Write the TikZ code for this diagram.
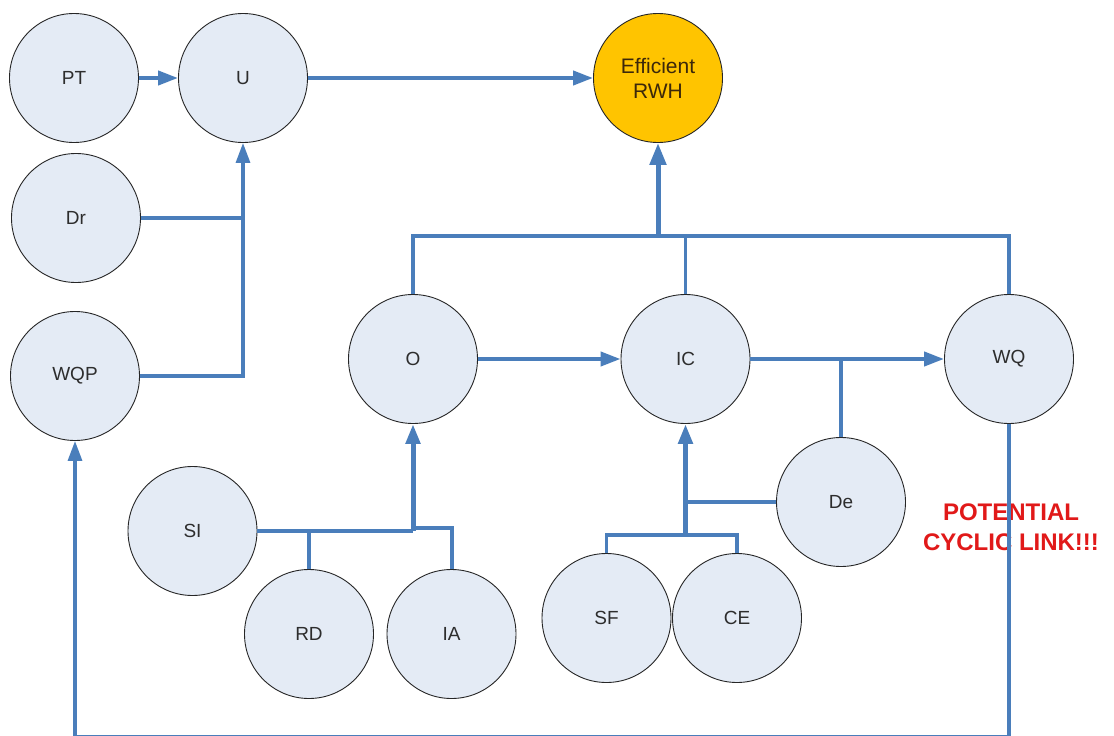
\documentclass[tikz,border=0pt]{standalone}
\usepackage{fontspec}
\setmainfont{Liberation Sans}
\usetikzlibrary{arrows.meta}
\definecolor{linkblue}{RGB}{74,126,187}
\definecolor{nodefill}{RGB}{228,235,245}
\definecolor{goalfill}{RGB}{255,196,0}
\definecolor{textgray}{RGB}{45,45,45}
\definecolor{goaltext}{RGB}{60,40,10}
\definecolor{warnred}{RGB}{225,25,25}
\tikzset{
  factor/.style={circle, draw=black!85, line width=0.9pt, fill=nodefill, minimum size=129pt, inner sep=0pt, text=textgray, font=\fontsize{19}{22}\selectfont, align=center},
  goal/.style={factor, fill=goalfill, text=goaltext, font=\fontsize{21}{25}\selectfont},
  conn/.style={draw=linkblue, line width=3.2pt},
  connmid/.style={draw=linkblue, line width=4pt},
  connthick/.style={draw=linkblue, line width=5pt},
  tip/.style={-{Triangle[length=20pt,width=14pt]}},
  bigtip/.style={-{Triangle[length=22pt,width=16pt]}},
  warn/.style={text=warnred, font=\bfseries\fontsize{24}{30}\selectfont, align=center, inner sep=0pt}
}
\begin{document}
\begin{tikzpicture}[x=1pt,y=-1pt]
\useasboundingbox[fill=white] (0,0) rectangle (1114,736);
% nodes
\node[factor] (PT)  at (74,78)   {PT};
\node[factor] (U)   at (243,78)  {U};
\node[goal]   (RWH) at (658,78)  {Efficient\\RWH};
\node[factor] (Dr)  at (76,218)  {Dr};
\node[factor] (WQP) at (75,376)  {WQP};
\node[factor] (O)   at (413,359) {O};
\node[factor] (IC)  at (685.5,359) {IC};
\node[factor] (WQ)  at (1009,359) {WQ};
\node[factor] (SI)  at (192.5,531) {SI};
\node[factor] (RD)  at (309,634) {RD};
\node[factor] (IA)  at (451.5,634) {IA};
\node[factor] (De)  at (841,502) {De};
\node[factor] (SF)  at (606.5,618) {SF};
\node[factor] (CE)  at (737,618) {CE};
\node[warn]   (warnText) at (1011,527) {POTENTIAL\\CYCLIC LINK!!!};
% junction coordinates
\coordinate (topBus) at (658,236);
\coordinate (siBus)  at (413,531);
\coordinate (icBus)  at (685.5,535);
\coordinate (botBus) at (1009,736.5);
% top row
\draw[connmid,tip] (PT.east) -- (U.west);
\draw[connmid,tip] (U.east) -- (RWH.west);
% left feeders into U
\draw[conn] (Dr.east) -- (Dr.east -| U.south);
\draw[conn,tip] (WQP.east) -| (U.south);
% bus into Efficient RWH
\draw[conn] (O.north) -- (O.north |- topBus) -- (WQ.north |- topBus) -- (WQ.north);
\draw[conn] (IC.north) -- (IC.north |- topBus);
\draw[connthick,bigtip] (topBus) -- (RWH.south);
% middle row
\draw[connmid,tip] (O.east) -- (IC.west);
\draw[connmid,tip] (IC.east) -- (WQ.west);
\draw[conn] (De.north) -- (De.north |- IC.east);
% feeders into O
\draw[conn] (SI.east) -- (siBus);
\draw[conn] (RD.north) -- (RD.north |- SI.east);
\draw[connmid] (IA.north) |- ([yshift=3pt]siBus);
\draw[connthick,tip] (siBus) -- (O.south);
% feeders into IC
\draw[conn] (SF.north) -- (SF.north |- icBus) -- (CE.north |- icBus) -- (CE.north);
\draw[conn] (De.west) -- (De.west -| IC.south);
\draw[connthick,tip] (icBus) -- (IC.south);
% potential cyclic link
\draw[conn,tip] (WQ.south) -- (WQ.south |- botBus) -- (WQP.south |- botBus) -- (WQP.south);
\end{tikzpicture}
\end{document}
